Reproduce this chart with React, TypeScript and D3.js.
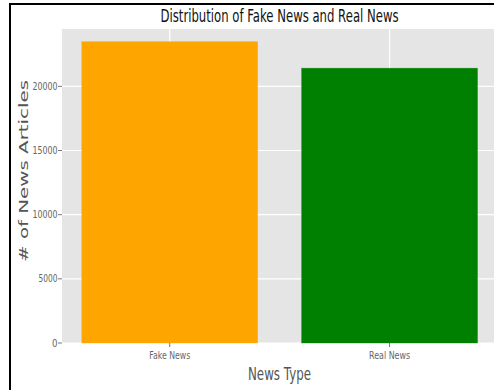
import React from "react";
import * as d3 from "d3";

const categories = ["Fake News", "Real News"];
const counts = [23481, 21417];
const barColors = ["#FFA500", "#008000"];
const yTicks = [0, 5000, 10000, 15000, 20000];
const yTickLabelWidths = [5.5, 19, 25, 25, 25];

const W = 494;
const H = 390;
const plotLeft = 62;
const plotRight = 497.3;
const plotTop = 29;
const plotBottom = 343;

export default function App() {
  const x = d3.scaleLinear().domain([-0.49, 1.49]).range([plotLeft, plotRight]);
  const y = d3.scaleLinear().domain([0, 24470]).range([plotBottom, plotTop]);
  const bw = 0.8;
  const font = "'DejaVu Sans', sans-serif";

  return (
    <svg
      width={W}
      height={H}
      style={{ position: "absolute", left: 0, top: 0, background: "#fff" }}
      fontFamily={font}
    >
      <rect x={0} y={0} width={W} height={H} fill="#fff" />
      <rect
        x={plotLeft}
        y={plotTop}
        width={plotRight - plotLeft}
        height={plotBottom - plotTop}
        fill="#E5E5E5"
      />
      {yTicks.map((t) => (
        <line key={"gy" + t} x1={plotLeft} x2={plotRight} y1={y(t)} y2={y(t)} stroke="#fff" strokeWidth={1.2} />
      ))}
      {categories.map((c, i) => (
        <line key={"gx" + c} x1={x(i)} x2={x(i)} y1={plotTop} y2={plotBottom} stroke="#fff" strokeWidth={1.2} />
      ))}
      {categories.map((c, i) => (
        <rect
          key={"b" + c}
          x={x(i - bw / 2)}
          y={y(counts[i])}
          width={x(i + bw / 2) - x(i - bw / 2)}
          height={y(0) - y(counts[i])}
          fill={barColors[i]}
          stroke={barColors[i]}
          strokeOpacity={0.6}
          strokeWidth={0.6}
        />
      ))}
      {yTicks.map((t, i) => (
        <g key={"ty" + t}>
          <line x1={plotLeft - 4} x2={plotLeft} y1={y(t)} y2={y(t)} stroke="#555" strokeWidth={0.8} />
          <text
            x={57.5 - yTickLabelWidths[i]}
            y={y(t) + 3.6}
            fontSize={10}
            fill="#666"
            textLength={yTickLabelWidths[i]}
            lengthAdjust="spacingAndGlyphs"
          >
            {t}
          </text>
        </g>
      ))}
      {categories.map((c, i) => (
        <g key={"tx" + c}>
          <line x1={x(i)} x2={x(i)} y1={plotBottom} y2={plotBottom + 4} stroke="#555" strokeWidth={0.8} />
          <text
            x={x(i) - 20.5}
            y={359}
            fontSize={10}
            fill="#666"
            textLength={41}
            lengthAdjust="spacingAndGlyphs"
          >
            {c}
          </text>
        </g>
      ))}
      <text x={160.5} y={21.5} fontSize={17} fill="#111" textLength={238} lengthAdjust="spacingAndGlyphs">
        Distribution of Fake News and Real News
      </text>
      <text x={248} y={380} fontSize={17} fill="#555" textLength={63} lengthAdjust="spacingAndGlyphs">
        News Type
      </text>
      <text
        transform={`translate(27.5,262) rotate(-90)`}
        x={0}
        y={0}
        fontSize={13}
        fill="#555"
        textLength={182}
        lengthAdjust="spacingAndGlyphs"
      >
        # of News Articles
      </text>
      <line x1={10} x2={10} y1={3} y2={H} stroke="#000" strokeWidth={2} />
      <line x1={9} x2={W} y1={4} y2={4} stroke="#000" strokeWidth={2} />
    </svg>
  );
}
